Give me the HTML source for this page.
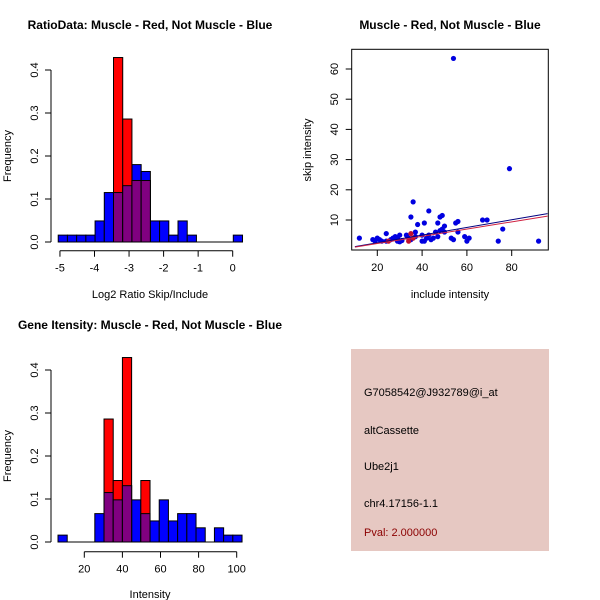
<!DOCTYPE html>
<html><head><meta charset="utf-8"><style>
body{margin:0;background:#fff;}
svg{display:block;font-family:"Liberation Sans",sans-serif;}
</style></head><body>
<svg id="c" width="600" height="600" xmlns="http://www.w3.org/2000/svg">
<rect width="600" height="600" fill="#fff"/>
</svg>
<script>
// Histogram 1: log2 ratio
const h1Start = -5.05, h1Width = 0.2667;
const h1Blue = [0.016,0.016,0.016,0.016,0.049,0.115,0.115,0.131,0.180,0.164,0.049,0.049,0.016,0.049,0.016,0,0,0,0,0.016];
const h1Red  = [0,0,0,0,0,0,0.429,0.286,0.143,0.143,0,0,0,0,0,0,0,0,0,0];
const h1XTicks = [-5,-4,-3,-2,-1,0];
const yTicks = [0,0.1,0.2,0.3,0.4];
// Histogram 2: intensity
const h2Start = 6.2, h2Width = 4.83;
const h2Blue = [0.016,0,0,0,0.066,0.115,0.098,0.131,0.098,0.066,0.049,0.098,0.049,0.066,0.066,0.033,0,0.033,0.016,0.016];
const h2Red  = [0,0,0,0,0,0.286,0.143,0.429,0,0.143,0,0,0,0,0,0,0,0,0,0];
const h2XTicks = [20,40,60,80,100];
// Scatter
const scX = [12,18,19,20,21,22,24,24,26,27,28,29,30,29,30,31,33,34,35,35,36,37,37,38,40,40,41,41,42,43,43,44,45,46,47,47,48,48,49,49,50,50,53,54,54,55,56,56,59,60,61,67,69,74,76,79,92];
const scY = [4,3.5,3,4,3.5,3,5.5,3,3.5,4,4.5,4,5,3,2.8,3.2,5,4,11,3.5,16,6,4.5,8.5,5,3,3,9,4,5,13,3.5,4,6,9,4.5,11,6.5,7,11.5,8,6,4,3.5,63.5,9,6,9.5,4.5,3,4,10,10,3,7,27,3];
const scRedX = [25,34,35,36];
const scRedY = [3,3,5.5,4];
const scXTicks = [20,40,60,80];
const scYTicks = [10,20,30,40,50,60];
const fitBlue = [[10,1.2],[96,12.1]];
const fitRed = [[10,1.0],[96,11.3]];

const svg = document.getElementById('c');
const NS = 'http://www.w3.org/2000/svg';
function el(tag, attrs, parent){const e=document.createElementNS(NS,tag);for(const k in attrs)e.setAttribute(k,attrs[k]);(parent||svg).appendChild(e);return e;}
function txt(s, attrs){const e=el('text',attrs);e.textContent=s;return e;}

function hist(x0, y0, sx, sy, start, w, blue, red, xticks, axisY, title, xlabel, titleY, xlabY, pref){
  const g = el('g',{});
  
  
  const X = v => x0 + (v - h0) * sx; const h0 = 0;
  const xs = v => x0 + v*sx; const ys = v => y0 - v*sy;
  blue.forEach((v,i)=>{ if(v>0){ const a=xs(start+i*w), b=xs(start+(i+1)*w);
    const r=el('rect',{x:a,y:ys(v),width:b-a,height:y0-ys(v),fill:'#0000ff',stroke:'#000','stroke-width':1},g);
     }});
  red.forEach((v,i)=>{ if(v>0){ const a=xs(start+i*w), b=xs(start+(i+1)*w);
    const r=el('rect',{x:a,y:ys(v),width:b-a,height:y0-ys(v),fill:'#ff0000',stroke:'#000','stroke-width':1},g);
     
    const m=Math.min(v,blue[i]); if(m>0){
    const p=el('rect',{x:a,y:ys(m),width:b-a,height:y0-ys(m),fill:'#800080',stroke:'#000','stroke-width':1},g);
     }}});
  el('line',{x1:xs(start),x2:xs(start+blue.length*w),y1:y0,y2:y0,stroke:'#000'},g);
  // y axis
  el('line',{x1:51,x2:51,y1:ys(0),y2:ys(0.4),stroke:'#000'},g);
  yTicks.forEach(t=>{el('line',{x1:45,x2:51,y1:ys(t),y2:ys(t),stroke:'#000'},g);
    const tt=txt(t.toFixed(1),{x:0,y:0,'font-size':11,'text-anchor':'middle',transform:`translate(38,${ys(t)}) rotate(-90)`});});
  // x axis
  el('line',{x1:xs(xticks[0]),x2:xs(xticks[xticks.length-1]),y1:axisY,y2:axisY,stroke:'#000'},g);
  xticks.forEach(t=>{el('line',{x1:xs(t),x2:xs(t),y1:axisY,y2:axisY+6,stroke:'#000'},g);
    txt(String(t),{x:xs(t),y:axisY+21,'font-size':11,'text-anchor':'middle'});});
  const tl=txt(title,{x:150,y:titleY,'font-size':12,'font-weight':'bold','text-anchor':'middle'});
   
  const xl=txt(xlabel,{x:150,y:xlabY,'font-size':11,'text-anchor':'middle'});
   
  const yl=txt('Frequency',{x:0,y:0,'font-size':11,'text-anchor':'middle',transform:`translate(11,${ys(0.2)}) rotate(-90)`});
   
}
// h1: -5 at x=60, 0 at 232.7
hist(232.7, 242, 34.55, 430, h1Start, h1Width, h1Blue, h1Red, h1XTicks, 250.7,
  'RatioData: Muscle - Red, Not Muscle - Blue','Log2 Ratio Skip/Include',29,298,'ratio');
// h2: 20 at 84.3, 100 at 236.7 -> sx=1.905; x0 = 84.3-20*1.905
hist(84.3-20*1.905, 542, 1.905, 430, h2Start, h2Width, h2Blue, h2Red, h2XTicks, 551.7,
  'Gene Itensity: Muscle - Red, Not Muscle - Blue','Intensity',329,598,'intensity');
document.querySelectorAll('text').forEach(t=>{if(t.textContent==='Gene Itensity: Muscle - Red, Not Muscle - Blue')t.setAttribute('x',150);});

// Scatter
const SX = v => 377.3 + (v-20)*2.24;
const SY = v => 220 - (v-10)*3.02;
const sg = el('g',{});


const frame=el('rect',{x:351.7,y:49.3,width:196.6,height:200.7,fill:'none',stroke:'#000'},sg);


scXTicks.forEach(t=>{el('line',{x1:SX(t),x2:SX(t),y1:250,y2:256,stroke:'#000'},sg);txt(String(t),{x:SX(t),y:271,'font-size':11,'text-anchor':'middle'});});
scYTicks.forEach(t=>{el('line',{x1:345.7,x2:351.7,y1:SY(t),y2:SY(t),stroke:'#000'},sg);txt(String(t),{x:0,y:0,'font-size':11,'text-anchor':'middle',transform:`translate(338,${SY(t)}) rotate(-90)`});});
const cp=el('clipPath',{id:'clp'}); el('rect',{x:351.7,y:49.3,width:196.6,height:200.7},cp);
scX.forEach((x,i)=>{const c=el('circle',{cx:SX(x),cy:SY(scY[i]),r:2.6,fill:'#0000e0'},sg);
   });
scRedX.forEach((x,i)=>{const c=el('circle',{cx:SX(x),cy:SY(scRedY[i]),r:2.6,fill:'#c01030'},sg);
   });
const lb=el('line',{x1:SX(fitBlue[0][0]),y1:SY(fitBlue[0][1]),x2:SX(fitBlue[1][0]),y2:SY(fitBlue[1][1]),stroke:'#000080','stroke-width':1,'clip-path':'url(#clp)'},sg);
 
const lr=el('line',{x1:SX(fitRed[0][0]),y1:SY(fitRed[0][1]),x2:SX(fitRed[1][0]),y2:SY(fitRed[1][1]),stroke:'#d02040','stroke-width':1,'clip-path':'url(#clp)'},sg);
 
const st=txt('Muscle - Red, Not Muscle - Blue',{x:450,y:29,'font-size':12,'font-weight':'bold','text-anchor':'middle'});
 
const sxl=txt('include intensity',{x:450,y:298,'font-size':11,'text-anchor':'middle'});
 
const syl=txt('skip intensity',{x:0,y:0,'font-size':11,'text-anchor':'middle',transform:'translate(311,150) rotate(-90)'});
 

// Info box
const ib=el('rect',{x:351,y:349,width:198,height:202,fill:'#e6c8c2'});
 
const info=[['G7058542@J932789@i_at',396,'#000','probe-id'],['altCassette',434,'#000','event-type'],['Ube2j1',470,'#000','gene-name'],['chr4.17156-1.1',507,'#000','location'],['Pval: 2.000000',536,'#8b0000','p-value']];
info.forEach(r=>{const t=txt(r[0],{x:364,y:r[1],'font-size':11,fill:r[2]});
   });
</script>
</body></html>
